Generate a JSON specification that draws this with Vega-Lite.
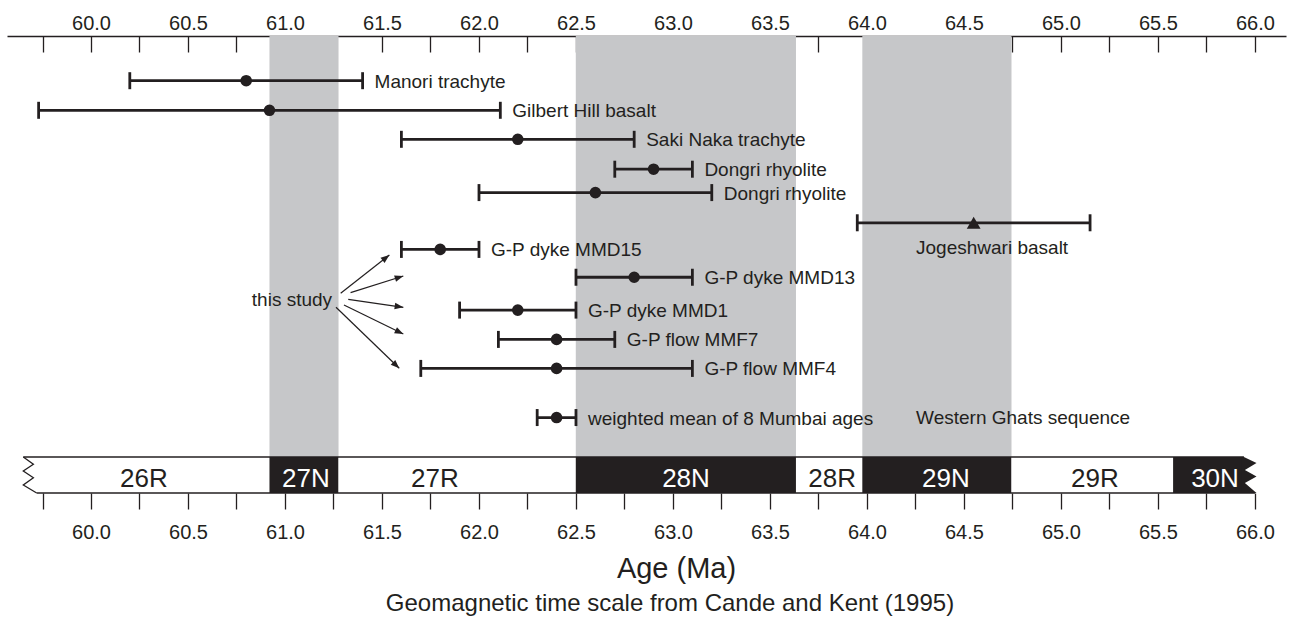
{
  "$schema": "https://vega.github.io/schema/vega-lite/v6.json",
  "width": 1279,
  "height": 457,
  "autosize": "none",
  "padding": {"left": 7, "top": 36, "right": 7, "bottom": 124},
  "background": "white",
  "title": {
    "text": "Geomagnetic time scale from Cande and Kent (1995)",
    "orient": "bottom",
    "anchor": "middle",
    "offset": 9,
    "dx": 23.5,
    "fontSize": 24,
    "fontWeight": "normal",
    "font": "Liberation Sans",
    "color": "#231f20"
  },
  "datasets": {
    "samples": [
      {"name": "Manori trachyte", "age": 60.8, "lo": 60.2, "hi": 61.4, "row": 1, "kind": "Mumbai", "label": "Manori trachyte"},
      {"name": "Gilbert Hill basalt", "age": 60.92, "lo": 59.73, "hi": 62.11, "row": 2, "kind": "Mumbai", "label": "Gilbert Hill basalt"},
      {"name": "Saki Naka trachyte", "age": 62.2, "lo": 61.6, "hi": 62.8, "row": 2.98, "kind": "Mumbai", "label": "Saki Naka trachyte"},
      {"name": "Dongri rhyolite a", "age": 62.9, "lo": 62.7, "hi": 63.1, "row": 3.99, "kind": "Mumbai", "label": "Dongri rhyolite"},
      {"name": "Dongri rhyolite b", "age": 62.6, "lo": 62.0, "hi": 63.2, "row": 4.78, "kind": "Mumbai", "label": "Dongri rhyolite"},
      {"name": "Jogeshwari basalt", "age": 64.55, "lo": 63.95, "hi": 65.15, "row": 5.8, "kind": "Western Ghats", "label": ""},
      {"name": "G-P dyke MMD15", "age": 61.8, "lo": 61.6, "hi": 62.0, "row": 6.7, "kind": "Mumbai", "label": "G-P dyke MMD15"},
      {"name": "G-P dyke MMD13", "age": 62.8, "lo": 62.5, "hi": 63.1, "row": 7.64, "kind": "Mumbai", "label": "G-P dyke MMD13"},
      {"name": "G-P dyke MMD1", "age": 62.2, "lo": 61.9, "hi": 62.5, "row": 8.75, "kind": "Mumbai", "label": "G-P dyke MMD1"},
      {"name": "G-P flow MMF7", "age": 62.4, "lo": 62.1, "hi": 62.7, "row": 9.74, "kind": "Mumbai", "label": "G-P flow MMF7"},
      {"name": "G-P flow MMF4", "age": 62.4, "lo": 61.7, "hi": 63.1, "row": 10.72, "kind": "Mumbai", "label": "G-P flow MMF4"},
      {"name": "weighted mean", "age": 62.4, "lo": 62.3, "hi": 62.5, "row": 12.38, "kind": "Mumbai", "label": "weighted mean of 8 Mumbai ages"}
    ],
    "chrons": [
      {"chron": "26R", "start": 59.72, "end": 60.92, "polarity": "R", "mid": 60.273},
      {"chron": "27N", "start": 60.92, "end": 61.276, "polarity": "N", "mid": 61.108},
      {"chron": "27R", "start": 61.276, "end": 62.499, "polarity": "R", "mid": 61.773},
      {"chron": "28N", "start": 62.499, "end": 63.634, "polarity": "N", "mid": 63.067},
      {"chron": "28R", "start": 63.634, "end": 63.976, "polarity": "R", "mid": 63.82},
      {"chron": "29N", "start": 63.976, "end": 64.745, "polarity": "N", "mid": 64.407},
      {"chron": "29R", "start": 64.745, "end": 65.578, "polarity": "R", "mid": 65.175},
      {"chron": "30N", "start": 65.578, "end": 65.943, "polarity": "N", "mid": 65.794}
    ],
    "notes": [
      {"text": "this study", "age": 60.829, "row": 8.385},
      {"text": "Jogeshwari basalt", "age": 64.253, "row": 6.608},
      {"text": "Western Ghats sequence", "age": 64.253, "row": 12.37}
    ],
    "arrows": [
      {"x1": 61.287, "y1": 8.182, "x2": 61.538, "y2": 6.889, "heading": 321.8},
      {"x1": 61.338, "y1": 8.162, "x2": 61.61, "y2": 7.598, "heading": 342.4},
      {"x1": 61.326, "y1": 8.385, "x2": 61.61, "y2": 8.655, "heading": 8.3},
      {"x1": 61.304, "y1": 8.578, "x2": 61.61, "y2": 9.557, "heading": 26.1},
      {"x1": 61.263, "y1": 8.655, "x2": 61.589, "y2": 10.716, "heading": 43.9}
    ],
    "zigLeft": [
      {"age": 59.651, "row": 13.713},
      {"age": 59.703, "row": 13.959},
      {"age": 59.651, "row": 14.186},
      {"age": 59.703, "row": 14.412},
      {"age": 59.651, "row": 14.659},
      {"age": 59.72, "row": 14.929}
    ],
    "zigRight": [
      {"age": 65.943, "row": 13.713},
      {"age": 66.008, "row": 13.915},
      {"age": 65.948, "row": 14.152},
      {"age": 66.008, "row": 14.372},
      {"age": 65.948, "row": 14.591},
      {"age": 66.008, "row": 14.929}
    ]
  },
  "layer": [
    {
      "data": {"name": "chrons"},
      "transform": [{"filter": "datum.polarity == 'N' && datum.chron != '30N'"}],
      "mark": {"type": "rect", "color": "#c6c7c9"},
      "encoding": {
        "x": {
          "field": "start", "type": "quantitative",
          "scale": {"domain": [59.567, 66.16], "nice": false, "zero": false},
          "axis": {
            "orient": "top",
            "values": [59.75, 60, 60.25, 60.5, 60.75, 61, 61.25, 61.5, 61.75, 62, 62.25, 62.5, 62.75, 63, 63.25, 63.5, 63.75, 64, 64.25, 64.5, 64.75, 65, 65.25, 65.5, 65.75, 66],
            "labelExpr": "(datum.value * 2) % 1 == 0 ? format(datum.value, '.1f') : ''",
            "title": null,
            "grid": false,
            "domain": true,
            "domainColor": "#231f20",
            "domainWidth": 1.3,
            "tickColor": "#231f20",
            "tickWidth": 1.3,
            "tickSize": -16,
            "labelPadding": 18.5,
            "labelFontSize": 20,
            "labelFont": "Liberation Sans",
            "labelColor": "#231f20",
            "labelFlush": false,
            "labelOverlap": false
          }
        },
        "x2": {"field": "end"},
        "y": {"datum": -0.51, "type": "quantitative", "scale": {"domain": [-0.51, 14.929], "reverse": true, "nice": false, "zero": false}, "axis": null},
        "y2": {"datum": 13.713}
      }
    },
    {
      "data": {"name": "chrons"},
      "mark": {"type": "rect"},
      "encoding": {
        "x": {
          "field": "start", "type": "quantitative",
          "scale": {"domain": [59.567, 66.16], "nice": false, "zero": false},
          "axis": {
            "orient": "bottom",
            "values": [59.75, 60, 60.25, 60.5, 60.75, 61, 61.25, 61.5, 61.75, 62, 62.25, 62.5, 62.75, 63, 63.25, 63.5, 63.75, 64, 64.25, 64.5, 64.75, 65, 65.25, 65.5, 65.75, 66],
            "labelExpr": "(datum.value * 2) % 1 == 0 ? format(datum.value, '.1f') : ''",
            "title": "Age (Ma)",
            "titleFontSize": 29,
            "titleFontWeight": "normal",
            "titleFont": "Liberation Sans",
            "titleColor": "#231f20",
            "titleX": 669,
            "titleY": 84,
            "titleBaseline": "alphabetic",
            "titleAlign": "center",
            "grid": false,
            "domain": false,
            "tickColor": "#231f20",
            "tickWidth": 1.3,
            "tickSize": 16,
            "labelPadding": 13,
            "labelFontSize": 20,
            "labelFont": "Liberation Sans",
            "labelColor": "#231f20",
            "labelFlush": false,
            "labelOverlap": false
          }
        },
        "x2": {"field": "end"},
        "y": {"datum": 13.713, "type": "quantitative", "scale": {"domain": [-0.51, 14.929], "reverse": true, "nice": false, "zero": false}, "axis": null},
        "y2": {"datum": 14.929},
        "color": {"condition": {"test": "datum.polarity == 'N'", "value": "#231f20"}, "value": "#ffffff"}
      }
    },
    {
      "data": {"name": "zigRight"},
      "mark": {"type": "area", "orient": "horizontal", "color": "#231f20", "opacity": 1},
      "encoding": {
        "y": {"field": "row", "type": "quantitative", "scale": {"domain": [-0.51, 14.929], "reverse": true, "nice": false, "zero": false}, "axis": null},
        "x": {"field": "age", "type": "quantitative", "scale": {"domain": [59.567, 66.16], "nice": false, "zero": false}, "axis": null},
        "x2": {"datum": 65.93}
      }
    },
    {
      "data": {"values": [{"edge": "top"}]},
      "mark": {"type": "rule", "color": "#231f20", "strokeWidth": 1.3},
      "encoding": {
        "x": {"datum": 59.651, "type": "quantitative", "scale": {"domain": [59.567, 66.16], "nice": false, "zero": false}, "axis": null},
        "x2": {"datum": 65.943},
        "y": {"datum": 13.713, "type": "quantitative", "scale": {"domain": [-0.51, 14.929], "reverse": true, "nice": false, "zero": false}, "axis": null}
      }
    },
    {
      "data": {"values": [{"edge": "bottom"}]},
      "mark": {"type": "rule", "color": "#231f20", "strokeWidth": 1.3},
      "encoding": {
        "x": {"datum": 59.72, "type": "quantitative", "scale": {"domain": [59.567, 66.16], "nice": false, "zero": false}, "axis": null},
        "x2": {"datum": 66.0},
        "y": {"datum": 14.929, "type": "quantitative", "scale": {"domain": [-0.51, 14.929], "reverse": true, "nice": false, "zero": false}, "axis": null}
      }
    },
    {
      "data": {"name": "zigLeft"},
      "mark": {"type": "line", "color": "#231f20", "strokeWidth": 1.3},
      "encoding": {
        "x": {"field": "age", "type": "quantitative", "scale": {"domain": [59.567, 66.16], "nice": false, "zero": false}, "axis": null},
        "y": {"field": "row", "type": "quantitative", "scale": {"domain": [-0.51, 14.929], "reverse": true, "nice": false, "zero": false}, "axis": null},
        "order": {"value": null}
      }
    },
    {
      "data": {"name": "chrons"},
      "mark": {"type": "text", "font": "Liberation Sans", "fontSize": 26, "baseline": "alphabetic", "align": "center"},
      "encoding": {
        "x": {"field": "mid", "type": "quantitative", "scale": {"domain": [59.567, 66.16], "nice": false, "zero": false}, "axis": null},
        "y": {"datum": 14.72, "type": "quantitative", "scale": {"domain": [-0.51, 14.929], "reverse": true, "nice": false, "zero": false}, "axis": null},
        "text": {"field": "chron"},
        "color": {"condition": {"test": "datum.polarity == 'N'", "value": "#ffffff"}, "value": "#231f20"}
      }
    },
    {
      "data": {"name": "samples"},
      "mark": {"type": "rule", "color": "#231f20", "strokeWidth": 2.8},
      "encoding": {
        "x": {"field": "lo", "type": "quantitative", "scale": {"domain": [59.567, 66.16], "nice": false, "zero": false}, "axis": null},
        "x2": {"field": "hi"},
        "y": {"field": "row", "type": "quantitative", "scale": {"domain": [-0.51, 14.929], "reverse": true, "nice": false, "zero": false}, "axis": null}
      }
    },
    {
      "data": {"name": "samples"},
      "mark": {"type": "tick", "orient": "vertical", "size": 17, "thickness": 2.8, "color": "#231f20", "opacity": 1},
      "encoding": {
        "x": {"field": "lo", "type": "quantitative", "scale": {"domain": [59.567, 66.16], "nice": false, "zero": false}, "axis": null},
        "y": {"field": "row", "type": "quantitative", "scale": {"domain": [-0.51, 14.929], "reverse": true, "nice": false, "zero": false}, "axis": null}
      }
    },
    {
      "data": {"name": "samples"},
      "mark": {"type": "tick", "orient": "vertical", "size": 17, "thickness": 2.8, "color": "#231f20", "opacity": 1},
      "encoding": {
        "x": {"field": "hi", "type": "quantitative", "scale": {"domain": [59.567, 66.16], "nice": false, "zero": false}, "axis": null},
        "y": {"field": "row", "type": "quantitative", "scale": {"domain": [-0.51, 14.929], "reverse": true, "nice": false, "zero": false}, "axis": null}
      }
    },
    {
      "data": {"name": "samples"},
      "mark": {"type": "point", "filled": true, "opacity": 1, "color": "#231f20"},
      "encoding": {
        "x": {"field": "age", "type": "quantitative", "scale": {"domain": [59.567, 66.16], "nice": false, "zero": false}, "axis": null},
        "y": {"field": "row", "type": "quantitative", "scale": {"domain": [-0.51, 14.929], "reverse": true, "nice": false, "zero": false}, "axis": null},
        "shape": {"field": "kind", "type": "nominal", "scale": {"domain": ["Mumbai", "Western Ghats"], "range": ["circle", "triangle-up"]}, "legend": null},
        "size": {"field": "kind", "type": "nominal", "scale": {"domain": ["Mumbai", "Western Ghats"], "range": [135, 190]}, "legend": null}
      }
    },
    {
      "data": {"name": "samples"},
      "transform": [{"filter": "datum.label != ''"}],
      "mark": {"type": "text", "font": "Liberation Sans", "fontSize": 19, "align": "left", "baseline": "middle", "dx": 12, "dy": 1, "color": "#231f20"},
      "encoding": {
        "x": {"field": "hi", "type": "quantitative", "scale": {"domain": [59.567, 66.16], "nice": false, "zero": false}, "axis": null},
        "y": {"field": "row", "type": "quantitative", "scale": {"domain": [-0.51, 14.929], "reverse": true, "nice": false, "zero": false}, "axis": null},
        "text": {"field": "label"}
      }
    },
    {
      "data": {"name": "notes"},
      "mark": {"type": "text", "font": "Liberation Sans", "fontSize": 19, "align": "left", "baseline": "middle", "dy": 1, "color": "#231f20"},
      "encoding": {
        "x": {"field": "age", "type": "quantitative", "scale": {"domain": [59.567, 66.16], "nice": false, "zero": false}, "axis": null},
        "y": {"field": "row", "type": "quantitative", "scale": {"domain": [-0.51, 14.929], "reverse": true, "nice": false, "zero": false}, "axis": null},
        "text": {"field": "text"}
      }
    },
    {
      "data": {"name": "arrows"},
      "mark": {"type": "rule", "color": "#231f20", "strokeWidth": 1.2},
      "encoding": {
        "x": {"field": "x1", "type": "quantitative", "scale": {"domain": [59.567, 66.16], "nice": false, "zero": false}, "axis": null},
        "x2": {"field": "x2"},
        "y": {"field": "y1", "type": "quantitative", "scale": {"domain": [-0.51, 14.929], "reverse": true, "nice": false, "zero": false}, "axis": null},
        "y2": {"field": "y2"}
      }
    },
    {
      "data": {"name": "arrows"},
      "mark": {"type": "point", "filled": true, "opacity": 1, "color": "#231f20", "shape": "M0,0L-1,-0.38L-1,0.38Z", "size": 300},
      "encoding": {
        "x": {"field": "x2", "type": "quantitative", "scale": {"domain": [59.567, 66.16], "nice": false, "zero": false}, "axis": null},
        "y": {"field": "y2", "type": "quantitative", "scale": {"domain": [-0.51, 14.929], "reverse": true, "nice": false, "zero": false}, "axis": null},
        "angle": {"field": "heading", "type": "quantitative", "scale": null}
      }
    }
  ],
  "resolve": {"axis": {"x": "independent"}},
  "config": {
    "view": {"stroke": null},
    "font": "Liberation Sans"
  }
}
